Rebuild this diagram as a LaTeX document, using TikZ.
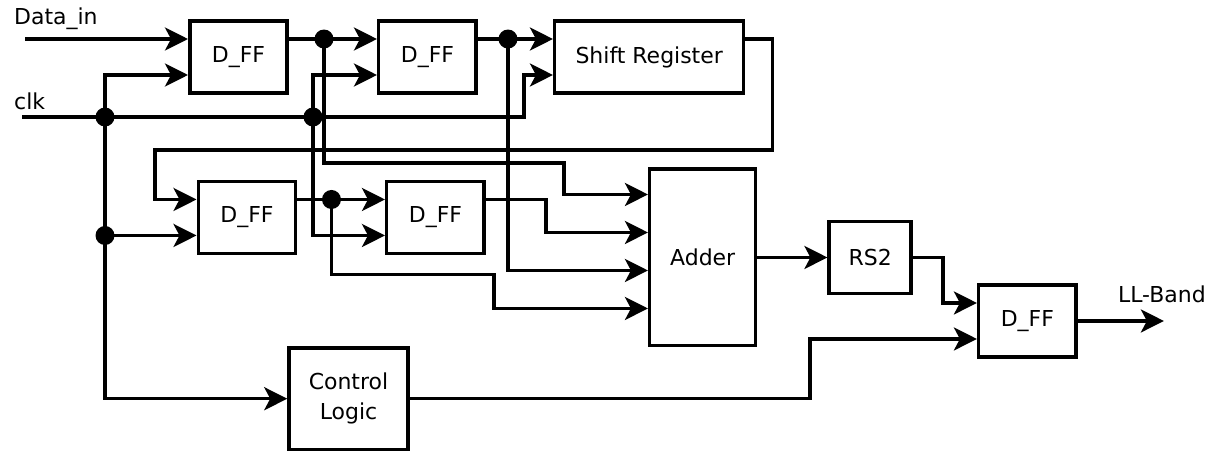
\documentclass[tikz,border=0pt]{standalone}
\usepackage{fontspec}
\setmainfont{DejaVu Sans}
\usetikzlibrary{positioning,arrows.meta}

\begin{document}
\begin{tikzpicture}[
    x=0.02cm, y=-0.02cm,
    font=\fontsize{12.5}{17}\selectfont,
    blockNode/.style={rectangle, draw, line width=2pt, minimum width=2cm, minimum height=1.44cm, align=center, inner sep=2pt},
    ffNode/.style={blockNode, minimum width=1.95cm},
    wire/.style={line width=1.9pt},
    arrowWire/.style={wire, -{Stealth[length=0.46cm, width=0.46cm, inset=0.12cm, fill=black]}},
    junction/.style={circle, fill, inner sep=0pt, minimum size=0.38cm},
    pinLabel/.style={anchor=west}
]
\useasboundingbox (0,0) rectangle (1214,453);

% ================= BLOCKS =================
\node[ffNode] (ff1) at (238.5,57) {D\_FF};
\node[ffNode, right=1.76cm of ff1] (ff2) {D\_FF};
\node[blockNode, minimum width=3.78cm, right=1.5cm of ff2] (shift) {Shift Register};
\node[ffNode, below=1.7cm of ff1, xshift=0.17cm] (ff3) {D\_FF};
\node[ffNode, right=1.75cm of ff3] (ff4) {D\_FF};
\node[blockNode, minimum width=2.12cm, minimum height=3.53cm, right=3.24cm of ff4, yshift=-0.8cm] (adder) {Adder};
\node[blockNode, minimum width=1.64cm, right=1.4cm of adder] (rs2) {RS2};
\node[ffNode, right=1.28cm of rs2, yshift=-1.27cm] (ff5) {D\_FF};
\node[blockNode, minimum width=2.38cm, minimum height=2.03cm, below=1.82cm of ff3, xshift=2.03cm] (ctrl) {Control\\Logic};

% ================= PINS =================
\foreach \n in {ff1,ff2,ff3,ff4,shift,ff5} {
    \coordinate (\n-d) at ([yshift=0.36cm]\n.west);
    \coordinate (\n-c) at ([yshift=-0.36cm]\n.west);
    \coordinate (\n-q) at ([yshift=0.36cm]\n.east);
}
\foreach \i/\dy in {1/1.26,2/0.5,3/-0.26,4/-1.02}
    \coordinate (adder-\i) at ([yshift=\dy cm]adder.west);

% ================= LABELS =================
\node[pinLabel] (din) at (8,19) {Data\_in};
\node[pinLabel] (clk) at (8,101) {clk};
\coordinate (dinStart) at (25,0 |- ff1-d);
\coordinate (clkStart) at (22,117);
\coordinate (outEnd) at ([xshift=1.72cm]ff5.east);
\node (llband) at ([xshift=-0.04cm, yshift=0.54cm]outEnd) {LL-Band};

% ================= JUNCTIONS =================
\node[junction] (jq1) at ([xshift=0.7cm]ff1-q) {};
\node[junction] (jq2) at ([xshift=0.6cm]ff2-q) {};
\node[junction] (jq3) at ([xshift=0.68cm]ff3-q) {};
\node[junction] (jc1) at (105,117) {};
\node[junction] (jc2) at (313,117) {};
\node[junction] (jc3) at (jc1 |- ff3-c) {};

% ================= CLOCK =================
\draw[arrowWire] (clkStart) -- (jc1.center) -- (jc2.center) -| ([xshift=-0.58cm]shift-c) -- (shift-c);
\draw[arrowWire] (jc1.center) |- (ff1-c);
\draw[wire] (jc1.center) -- (jc3.center);
\draw[arrowWire] (jc3.center) -- (ff3-c);
\draw[arrowWire] (jc3.center) |- (ctrl.west);
\draw[arrowWire] (jc2.center) |- (ff2-c);
\draw[arrowWire] (jc2.center) |- (ff4-c);

% ================= DATA PATH =================
\draw[arrowWire] (dinStart) -- (ff1-d);
\draw[wire] (ff1-q) -- (jq1.center);
\draw[arrowWire] (jq1.center) -- (ff2-d);
\draw[arrowWire] (jq1.center) -- ++(0,124) -| ([xshift=-1.68cm]adder-1) -- (adder-1);
\draw[wire] (ff2-q) -- (jq2.center);
\draw[arrowWire] (jq2.center) -- (shift-d);
\draw[arrowWire] (jq2.center) |- (adder-3);
\draw[arrowWire] (shift-q) -- ++(27,0) |- (155,150) |- (ff3-d);
\draw[wire] (ff3-q) -- (jq3.center);
\draw[arrowWire] (jq3.center) -- (ff4-d);
\draw[arrowWire] (jq3.center) -- ++(0,75) -| ([xshift=-3.08cm]adder-4) -- (adder-4);
\draw[arrowWire] (ff4-q) -| ([xshift=-2.04cm]adder-2) -- (adder-2);

% ================= OUTPUT =================
\draw[arrowWire] (adder.east) -- (rs2.west);
\draw[arrowWire] (rs2.east) -| ([xshift=-0.68cm]ff5-d) -- (ff5-d);
\draw[arrowWire] (ctrl.east) -| ([xshift=-3.34cm]ff5-c) -- (ff5-c);
\draw[arrowWire] (ff5.east) -- (outEnd);

\end{tikzpicture}
\end{document}
